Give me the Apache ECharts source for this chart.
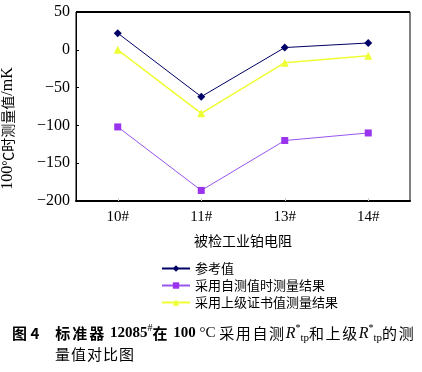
<!DOCTYPE html>
<html><head><meta charset="utf-8">
<script src="https://cdn.jsdelivr.net/npm/echarts@6/dist/echarts.min.js"></script>
<style>html,body{margin:0;padding:0;background:#fff}#c{width:422px;height:372px}</style>
</head><body><div id="c"></div>
<script>
const categories = ['10#', '11#', '13#', '14#'];
const refValues = [22, -62, 3, 9];
const selfValues = [-102, -186, -120, -110];
const upperValues = [0, -84, -17, -8];
const seriesNames = ['参考值', '采用自测值时测量结果', '采用上级证书值测量结果'];

const cjk = '"Noto Sans CJK SC", sans-serif';
const num = '"Liberation Serif", serif';
// wrap each CJK char separately so it gets letter spacing
const sp = (s, st) => s.split('').map(c => '{' + st + '|' + c + '}').join('');
const capLine1 = '{b|图 4}{g| }' + sp('标准器', 'bc') + '{n| 12085}{sup|#}' + sp('在', 'bc') +
  '{n| 100}{s| °C }' + sp('采用自测', 'tc') + '{i|R}{sup|*}{sub|tp}' + sp('和上级', 'tc') +
  '{i|R}{sup|*}{sub|tp}' + sp('的测', 'tc');

const chart = echarts.init(document.getElementById('c'), null, {renderer: 'canvas'});
chart.setOption({
  animation: false,
  backgroundColor: '#fff',
  grid: {left: 76, right: 12, top: 12, bottom: 171, outerBoundsMode: 'none', containLabel: false,
    show: true, borderColor: '#000', borderWidth: 1},
  xAxis: {
    type: 'category', data: categories, boundaryGap: true,
    axisLine: {onZero: false, lineStyle: {color: '#000', width: 2}},
    axisTick: {show: true, inside: true, alignWithLabel: true, length: 3, lineStyle: {color: '#ccc'}},
    axisLabel: {color: '#000', fontFamily: num, fontSize: 15, margin: 9},
    name: '被检工业铂电阻', nameLocation: 'middle', nameGap: 33,
    nameTextStyle: {color: '#000', fontFamily: cjk, fontSize: 14}
  },
  yAxis: {
    type: 'value', min: -200, max: 50, interval: 50,
    axisLine: {show: true, lineStyle: {color: '#000', width: 1}},
    axisTick: {show: true, inside: true, length: 3, lineStyle: {color: '#000'}},
    splitLine: {show: false},
    axisLabel: {color: '#000', fontFamily: num, fontSize: 16, margin: 6,
      formatter: v => (v < 0 ? '\u2212' + Math.abs(v) : String(v))},
    name: '{a|100}{b|℃时测量值}{a|/mK}', nameLocation: 'middle', nameGap: 60,
    nameTextStyle: {color: '#000', padding: [0, 0, 0, -44],
      rich: {a: {fontFamily: num, fontSize: 16, color: '#000'}, b: {fontFamily: cjk, fontSize: 14, color: '#000'}}}
  },
  legend: {
    orient: 'vertical', left: 156, top: 257, itemGap: 4, itemWidth: 28, itemHeight: 8,
    textStyle: {color: '#000', fontFamily: cjk, fontSize: 13},
    data: seriesNames
  },
  series: [
    {name: seriesNames[0], type: 'line', data: refValues, symbol: 'diamond', symbolSize: 8,
      itemStyle: {color: '#000066'}, lineStyle: {color: '#000066', width: 1}},
    {name: seriesNames[1], type: 'line', data: selfValues, symbol: 'rect', symbolSize: 7,
      itemStyle: {color: '#9933ee'}, lineStyle: {color: '#9955ee', width: 1}},
    {name: seriesNames[2], type: 'line', data: upperValues, symbol: 'triangle', symbolSize: 8,
      itemStyle: {color: '#eeff33'}, lineStyle: {color: '#eeff33', width: 1.5}}
  ],
  graphic: [
    {type: 'line', shape: {x1: 76, y1: 12, x2: 410, y2: 12}, style: {stroke: '#000', lineWidth: 2}},
    {type: 'text', left: 12, top: 323, style: {
      rich: {
        b: {fontFamily: cjk, fontWeight: 'bold', fontSize: 15, fill: '#000'},
        g: {fontFamily: cjk, fontSize: 15, fill: '#000', width: 16},
        bc: {fontFamily: cjk, fontWeight: 'bold', fontSize: 15, fill: '#000', padding: [0, 2, 0, 0]},
        n: {fontFamily: num, fontWeight: 'bold', fontSize: 15, fill: '#000'},
        tc: {fontFamily: cjk, fontSize: 15, fill: '#000', padding: [0, 1.6, 0, 0]},
        s: {fontFamily: num, fontSize: 15, fill: '#000'},
        i: {fontFamily: num, fontStyle: 'italic', fontSize: 16, fill: '#000'},
        sup: {fontFamily: num, fontSize: 10, fill: '#000', verticalAlign: 'top', padding: [0, 0, 8, 0]},
        sub: {fontFamily: num, fontSize: 11, fill: '#000', padding: [10, 0, 0, 0]}
      },
      text: capLine1
    }},
    {type: 'text', left: 55, top: 347, style: {
      rich: {tc: {fontFamily: cjk, fontSize: 15, fill: '#000', padding: [0, 1, 0, 0]}},
      text: sp('量值对比图', 'tc')
    }}
  ]
});
</script></body></html>
